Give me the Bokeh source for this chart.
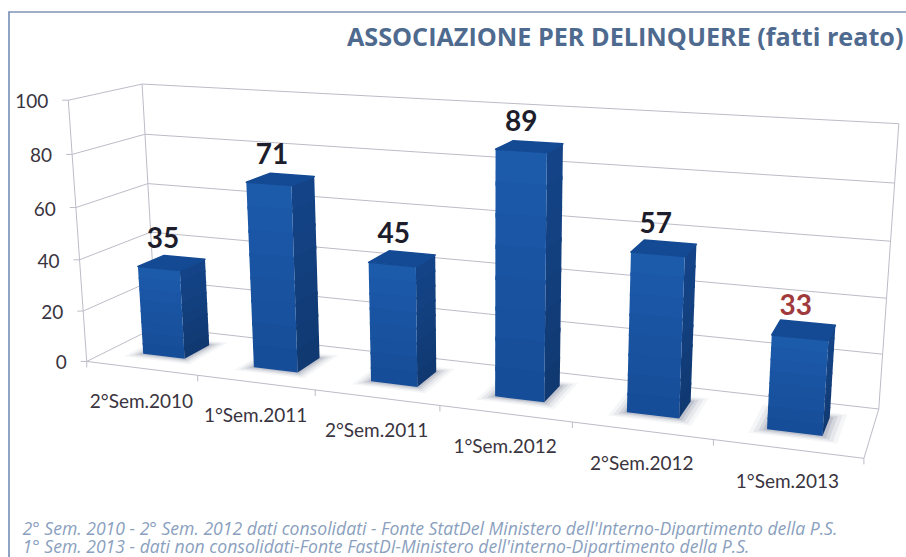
import numpy as np
from bokeh.plotting import figure
from bokeh.models import Range1d
from bokeh.core.properties import value
from bokeh.embed import file_html
from bokeh.resources import INLINE

categories = ["2°Sem.2010", "1°Sem.2011", "2°Sem.2011", "1°Sem.2012", "2°Sem.2012", "1°Sem.2013"]
series_values = [35, 71, 45, 89, 57, 33]
value_label_colors = ["#1d1d2b"] * 5 + ["#a03a3c"]
y_ticks = [0, 20, 40, 60, 80, 100]
title_text = "ASSOCIAZIONE PER DELINQUERE (fatti reato)"
notes = ["2° Sem. 2010 - 2° Sem. 2012 dati consolidati - Fonte StatDel Ministero dell'Interno-Dipartimento della P.S.",
         "1° Sem. 2013 - dati non consolidati-Fonte FastDI-Ministero dell'interno-Dipartimento della P.S."]

calib = [((0,0,0),(87,359)),((6,0,0),(863,458)),((6,1,0),(878,407)),((0,1,0),(155,329)),
         ((0,0,100),(68,101)),((0,1,100),(140,84)),((6,1,100),(898,123)),
         ((0,0,80),(72,154)),((0,0,60),(75,207)),((0,0,40),(78,258)),((0,0,20),(82,309)),
         ((0,1,80),(146,133)),((0,1,60),(148,183)),((6,1,80),(895,183)),((6,1,40),(886,297)),((6,1,20),(882,353)),
         ((1,0,0),(198,375)),((2,0,0),(315,390)),((5,0,0),(713,442))]
A = []
for (a,b,c),(x,y) in calib:
    c2 = c/100*6
    A.append([a,b,c2,1,0,0,0,0,-x*a,-x*b,-x*c2,-x])
    A.append([0,0,0,0,a,b,c2,1,-y*a,-y*b,-y*c2,-y])
P = np.linalg.svd(np.array(A,float))[2][-1].reshape(3,4)

def proj(u, w, v):
    h = P @ np.array([u, w, v/100*6, 1.0])
    return h[0]/h[2], h[1]/h[2]

def poly(pts):
    xy = [proj(*q) for q in pts]
    return [a for a,_ in xy], [b for _,b in xy]

W, H = 906, 557
p = figure(width=W, height=H, x_range=Range1d(0, 906), y_range=Range1d(557, 0),
           toolbar_location=None, output_backend="svg", min_border=0, outline_line_color=None)
p.axis.visible = False
p.grid.visible = False
p.background_fill_color = "#ffffff"

p.line([8.5, 8.5], [11, 557], line_color="#8fa3c4", line_width=2)
p.line([8, 906], [11.5, 11.5], line_color="#7f95b8", line_width=1.6)

grid = "#bcbcc8"
for t in y_ticks:
    xs, ys = poly([(0,0,t),(0,1,t),(6,1,t)])
    p.line(xs, ys, line_color=grid, line_width=1)
    x0, y0 = proj(0,0,t)
    p.line([x0-6, x0], [y0, y0], line_color=grid, line_width=1)
    p.text([x0-20], [y0+1], text=[str(t)], text_align="right", text_baseline="middle",
           text_font=value("Lato"), text_font_size="19px", text_color="#3a3440")
for a,b in [((0,0,0),(0,0,100)),((0,1,0),(0,1,100)),((6,1,0),(6,1,100)),((0,0,0),(6,0,0)),((6,0,0),(6,1,0))]:
    xs, ys = poly([a,b]); p.line(xs, ys, line_color=grid, line_width=1)
for i in range(7):
    x0, y0 = proj(i,0,0)
    p.line([x0,x0],[y0,y0+6], line_color=grid, line_width=1)

hw, w0, w1 = 0.19, 0.32, 0.70
for i, v in enumerate(series_values):
    c = i + 0.50
    for e, alpha in [(0.30,0.06),(0.27,0.09),(0.24,0.13),(0.215,0.16)]:
        d = (e-hw)
        xs, ys = poly([(c-e,w0-d,0),(c+e,w0-d,0),(c+e,w1+d,0),(c-e,w1+d,0)])
        p.patch(xs, ys, fill_color="#55607f", fill_alpha=alpha, line_color=None)
    # base coat so the faces keep clean edges, then a few lighter-to-darker bands inside
    n = 8
    for k in range(n):
        t = k/n
        vt, vb = v*(1-t), v*max(0.0, 1-t-1.15/n)
        side = "#%02x%02x%02x" % (int(20-4*t), int(68-12*t), int(135-23*t))
        xs, ys = poly([(c+hw,w0,vt),(c+hw,w1,vt),(c+hw,w1,vb),(c+hw,w0,vb)])
        p.patch(xs, ys, fill_color=side, line_color=None)
        front = "#%02x%02x%02x" % (int(28-6*t), int(90-14*t), int(170-20*t))
        xs, ys = poly([(c-hw,w0,vt),(c+hw,w0,vt),(c+hw,w0,vb),(c-hw,w0,vb)])
        p.patch(xs, ys, fill_color=front, line_color=None)
    xs, ys = poly([(c-hw,w0,v),(c+hw,w0,v),(c+hw,w1,v),(c-hw,w1,v)])
    p.patch(xs, ys, fill_color="#144a94", line_color="#144a94", line_width=1.5, line_join="round")
    xl, yl = proj(c,0.5,v)
    p.text([xl-8],[yl-26], text=[str(v)], text_align="center", text_baseline="middle",
           text_font=value("Lato"), text_font_style="bold", text_font_size="28px",
           text_color=value_label_colors[i])
    xl, yl = proj(i+0.5,0,0)
    p.text([xl],[yl+32], text=[categories[i]], text_align="center", text_baseline="middle",
           text_font=value("Lato"), text_font_size="19px", text_color="#3a3440")

p.text([903],[35], text=[title_text], text_align="right", text_baseline="middle",
       text_font=value("Open Sans"), text_font_style="bold", text_font_size="25.2px", text_color="#4f6a8f")
for yy, s in zip([527, 545], notes):
    p.text([22],[yy], text=[s], text_align="left", text_baseline="middle",
           text_font=value("Open Sans"), text_font_style="italic", text_font_size="17.6px", text_color="#8aa0be")

open("out.html", "w").write(file_html(p, INLINE))
